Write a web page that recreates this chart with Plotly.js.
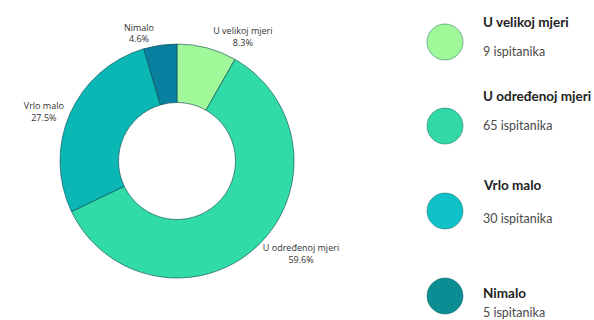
<!DOCTYPE html>
<html>
<head>
<meta charset="utf-8">
<script src="https://cdn.plot.ly/plotly-3.0.1.min.js"></script>
<style>html,body{margin:0;padding:0;background:#fff;}#chart{width:594px;height:320px;}</style>
</head>
<body>
<div id="chart"></div>
<script>
const categories = ["U velikoj mjeri", "U određenoj mjeri", "Vrlo malo", "Nimalo"];
const counts = [9, 65, 30, 5];
const sliceColors = ["#a0f898", "#30dba8", "#0ab7b5", "#0a80a0"];
const legendColors = ["#a0f898", "#30d9a6", "#10c2c8", "#0a8e94"];
const countSuffix = " ispitanika";

const pie = {
  type: "pie",
  labels: categories,
  values: counts,
  sort: false,
  direction: "clockwise",
  rotation: 0,
  hole: 0.5,
  marker: {colors: sliceColors, line: {color: "rgba(10,70,80,0.6)", width: 1}},
  textinfo: "label+percent",
  texttemplate: "%{label}<br>%{percent:.1%}",
  textposition: "outside",
  outsidetextfont: {family: "Open Sans", size: 9, color: "#333"},
  domain: {x: [60/594, 294/594], y: [42/320, 276/320]},
  showlegend: false,
  hoverinfo: "label+value+percent"
};

// legend layout (pixel rows)
const circleY = [42, 126, 211, 296];
const titleY = [22, 96, 185, 293];
const countY = [51, 125, 218, 312];
const shapes = [];
const annotations = [];
categories.forEach((c, i) => {
  const cy = circleY[i];
  shapes.push({type: "circle", xref: "paper", yref: "paper",
    x0: 427/594, x1: 463/594, y0: 1 - (cy + 18)/320, y1: 1 - (cy - 18)/320,
    fillcolor: legendColors[i], line: {color: "rgba(10,90,90,0.45)", width: 1}});
  annotations.push({xref: "paper", yref: "paper", x: 481/594, y: 1 - titleY[i]/320,
    xanchor: "left", yanchor: "middle", showarrow: false,
    text: "<b>" + c + "</b>", font: {family: "Lato", size: 13.5, color: "#222"}});
  annotations.push({xref: "paper", yref: "paper", x: 481/594, y: 1 - countY[i]/320,
    xanchor: "left", yanchor: "middle", showarrow: false,
    text: counts[i] + countSuffix, font: {family: "Lato", size: 12.5, color: "#4a4a4a"}});
});

const layout = {
  width: 594, height: 320,
  margin: {l: 0, r: 0, t: 0, b: 0},
  paper_bgcolor: "#fff",
  shapes: shapes,
  annotations: annotations
};
Plotly.newPlot("chart", [pie], layout, {displayModeBar: false, staticPlot: true});
</script>
</body>
</html>
